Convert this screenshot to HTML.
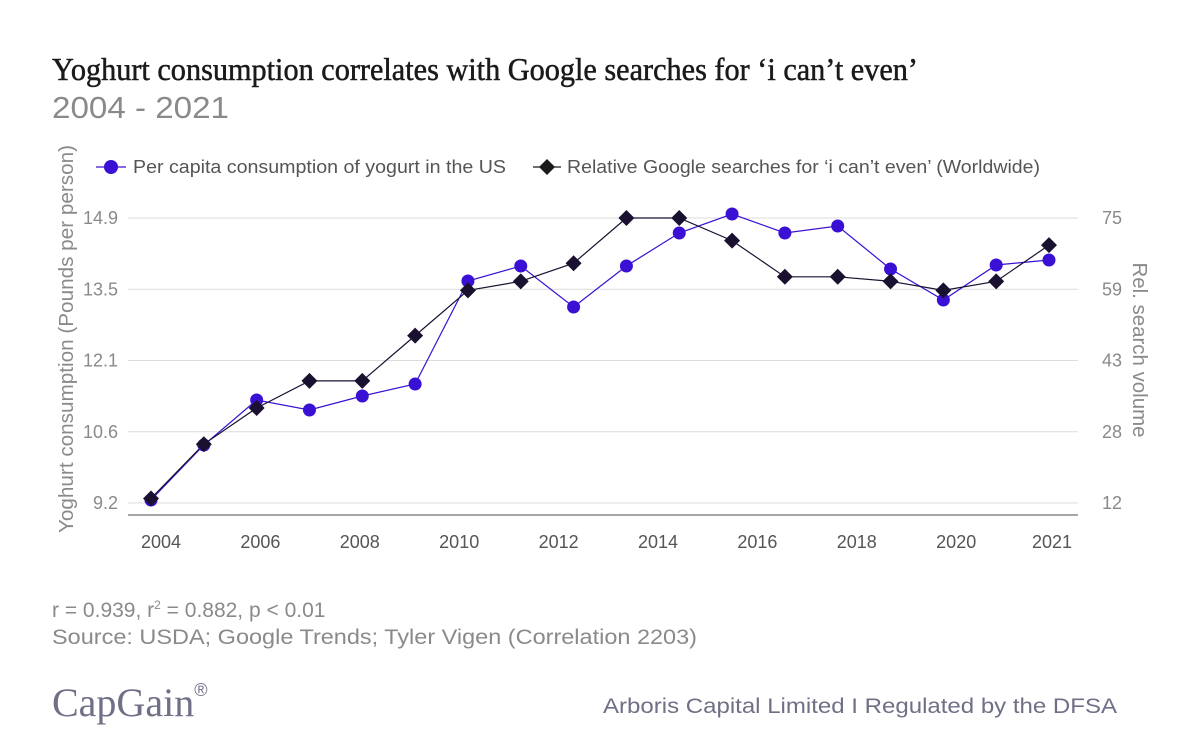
<!DOCTYPE html>
<html><head><meta charset="utf-8"><style>
html,body{margin:0;padding:0;background:#fff;}
svg{display:block;font-family:"Liberation Sans",sans-serif;}
</style></head><body>
<svg id="chart" width="1200" height="744" viewBox="0 0 1200 744" xmlns="http://www.w3.org/2000/svg">
<rect width="1200" height="744" fill="#fff"/>
<text x="52" y="80" font-family="Liberation Serif, serif" font-size="32" fill="#1a1a1a" stroke="#1a1a1a" stroke-width="0.5" textLength="866" lengthAdjust="spacingAndGlyphs">Yoghurt consumption correlates with Google searches for ‘i can’t even’</text>
<text x="52" y="118" font-size="31" fill="#8a8a8a" textLength="177" lengthAdjust="spacingAndGlyphs">2004 - 2021</text>
<g>
<g>
<line x1="96" y1="167" x2="126" y2="167" stroke="#3a10d4" stroke-width="1.2"/>
<circle cx="111" cy="167" r="7" fill="#3a10d4"/>
<text x="133" y="173" font-size="18" fill="#555" textLength="373" lengthAdjust="spacingAndGlyphs">Per capita consumption of yogurt in the US</text>
</g>
<g>
<line x1="533" y1="167" x2="561" y2="167" stroke="#1a1a1a" stroke-width="1.2"/>
<path d="M547 159 L555 167 L547 175 L539 167 Z" fill="#1a1a1a"/>
<text x="567" y="173" font-size="18" fill="#555" textLength="473" lengthAdjust="spacingAndGlyphs">Relative Google searches for ‘i can’t even’ (Worldwide)</text>
</g>
</g>
<g id="grid"></g>
<g id="axes"></g>
<g id="series"></g>
<text transform="translate(73,339) rotate(-90)" text-anchor="middle" font-size="20" fill="#8a8a8a" textLength="388" lengthAdjust="spacingAndGlyphs">Yoghurt consumption (Pounds per person)</text>
<text transform="translate(1133,350) rotate(90)" text-anchor="middle" font-size="20" fill="#8a8a8a" textLength="175" lengthAdjust="spacingAndGlyphs">Rel. search volume</text>
<text x="52" y="617" font-size="21" fill="#8a8a8a">r = 0.939, r<tspan font-size="12" dy="-8">2</tspan><tspan dy="8"> = 0.882, p &lt; 0.01</tspan></text>
<text x="52" y="644" font-size="21" fill="#8a8a8a" textLength="645" lengthAdjust="spacingAndGlyphs">Source: USDA; Google Trends; Tyler Vigen (Correlation 2203)</text>
<text x="52" y="716" font-family="Liberation Serif, serif" font-size="40" fill="#6f6f86">CapGain<tspan font-size="18" dy="-20" font-family="Liberation Sans, sans-serif">®</tspan></text>
<text x="603" y="713" font-size="21" fill="#6f6f86" textLength="514" lengthAdjust="spacingAndGlyphs">Arboris Capital Limited I Regulated by the DFSA</text>
</svg>
<script>
const years = [2004,2005,2006,2007,2008,2009,2010,2011,2012,2013,2014,2015,2016,2017,2018,2019,2020,2021];
const yogurt = [9.26,10.36,11.26,11.06,11.34,11.58,13.64,13.94,13.12,13.94,14.6,14.98,14.6,14.74,13.88,13.26,13.96,14.06];
const searches = [13,25,33,39,39,49,59,61,65,75,75,70,62,62,61,59,61,69];
const leftTicks = ["14.9","13.5","12.1","10.6","9.2"];
const rightTicks = ["75","59","43","28","12"];
const xTickLabels = ["2004","2006","2008","2010","2012","2014","2016","2018","2020","2021"];

const NS="http://www.w3.org/2000/svg";
function mk(tag,attrs,parent){const e=document.createElementNS(NS,tag);for(const k in attrs)e.setAttribute(k,attrs[k]);parent.appendChild(e);return e;}
const X0=151,X1=1049,TOP=218,BOT=503;
const xPt=i=>X0+(X1-X0)*i/(years.length-1);
const yL=v=>BOT-(v-9.2)/(14.9-9.2)*(BOT-TOP);
const yR=v=>BOT-(v-12)/(75-12)*(BOT-TOP);
const grid=document.getElementById('grid'),axes=document.getElementById('axes'),series=document.getElementById('series');
leftTicks.forEach((t,i)=>{
  const y=TOP+(BOT-TOP)*i/(leftTicks.length-1);
  const g=mk('line',{x1:128,x2:1078,y1:y,y2:y,stroke:'#dcdcdc','stroke-width':1},grid);
  
  
  const l=mk('text',{x:118,y:y+6,'text-anchor':'end','font-size':18,fill:'#8a8a8a'},axes);l.textContent=t;
  
  
  const r=mk('text',{x:1102,y:y+6,'font-size':18,fill:'#8a8a8a'},axes);r.textContent=rightTicks[i];
  
  
});
const base=mk('line',{x1:128,x2:1078,y1:515,y2:515,stroke:'#888','stroke-width':1.5},axes);


xTickLabels.forEach((t,i)=>{
  const x=i<xTickLabels.length-1?161+99.4*i:1052;
  const e=mk('text',{x:x,y:548,'text-anchor':'middle','font-size':18,fill:'#555'},axes);e.textContent=t;
  
  
});
const pY=yogurt.map((v,i)=>xPt(i)+','+yL(v)).join(' ');
const lineY=mk('polyline',{points:pY,fill:'none',stroke:'#3a10d4','stroke-width':1.2},series);


const pS=searches.map((v,i)=>xPt(i)+','+yR(v)).join(' ');
const lineS=mk('polyline',{points:pS,fill:'none',stroke:'#1a1030','stroke-width':1.2},series);


yogurt.forEach((v,i)=>{
  const c=mk('circle',{cx:xPt(i),cy:yL(v),r:6.5,fill:'#3a10d4'},series);
  
  
});
searches.forEach((v,i)=>{
  const x=xPt(i),y=yR(v);
  const d=mk('path',{d:`M${x} ${y-8} L${x+8} ${y} L${x} ${y+8} L${x-8} ${y} Z`,fill:'#1a1030'},series);
  
  
});
</script>
</body></html>
